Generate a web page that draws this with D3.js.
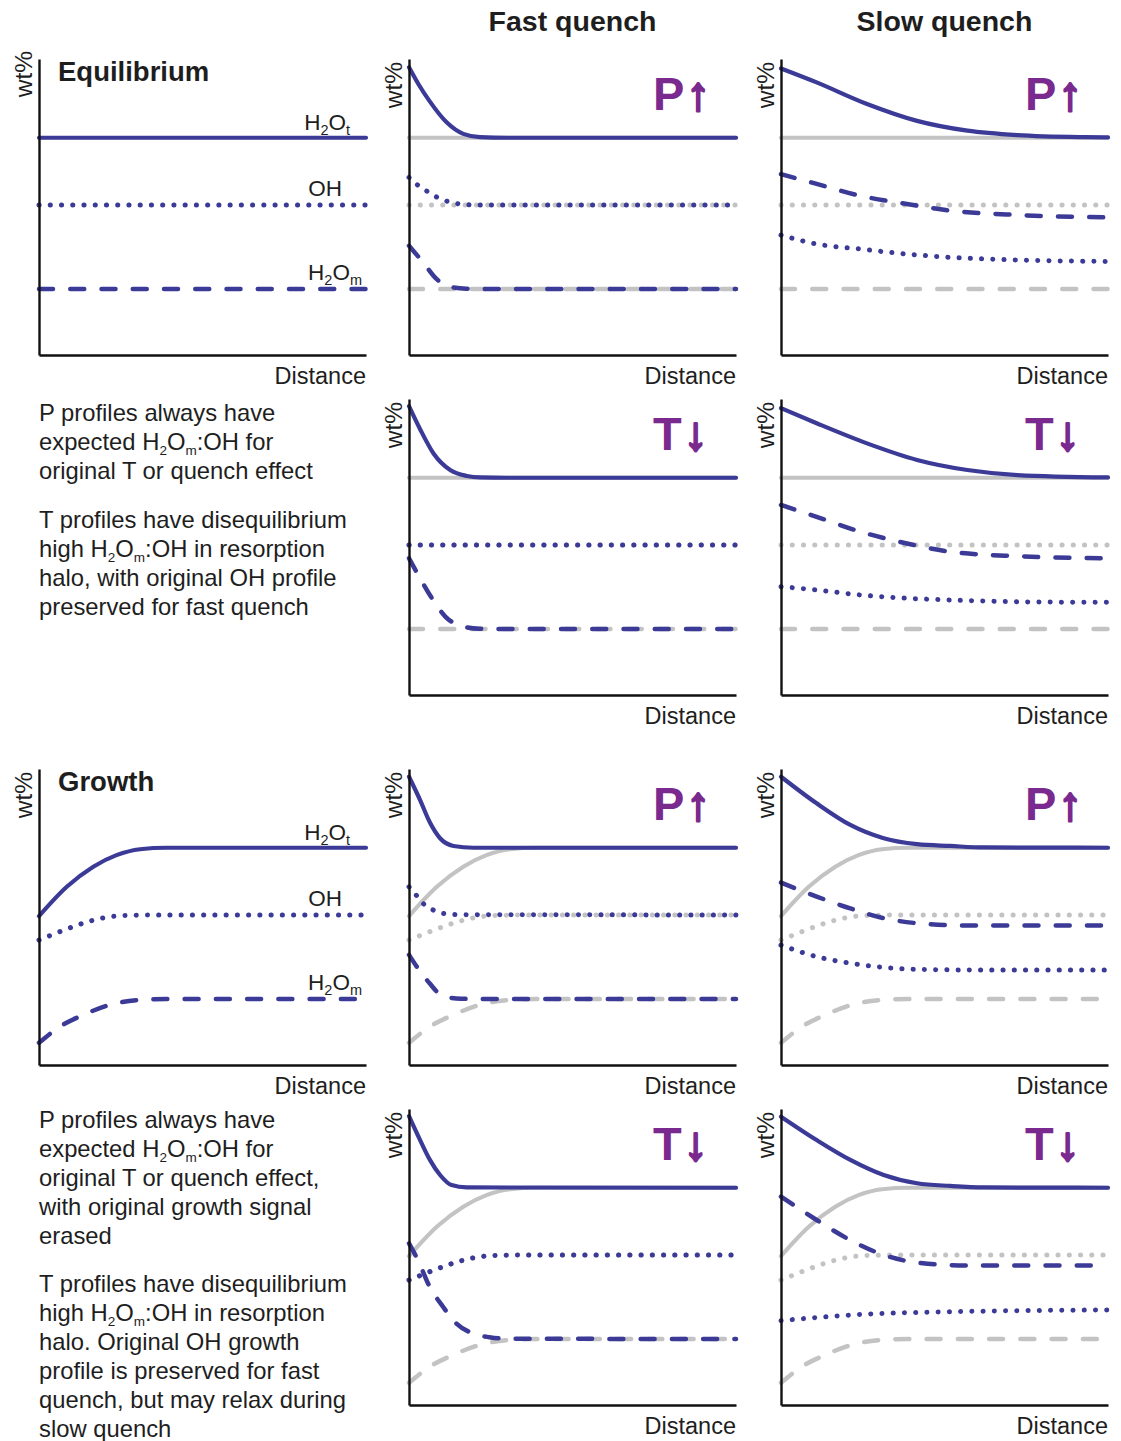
<!DOCTYPE html>
<html><head><meta charset="utf-8">
<script src="https://cdn.jsdelivr.net/npm/d3@7"></script>
<style>
html,body{margin:0;padding:0;background:#fff;}
svg{display:block;font-family:"Liberation Sans",Arial,sans-serif;}
</style></head>
<body>
<svg id="chart" width="1121" height="1441"></svg>
<script>
// ---------- DATA (x: distance 0-100, y: wt% arbitrary 0-100) ----------
const columnHeaders = ["Fast quench", "Slow quench"];
const speciesLabels = ["H_2O_t", "OH", "H_2O_m"];
const eqH2Ot = [[0,73.4],[100,73.4]];
const eqOH   = [[0,50.7],[100,50.7]];
const eqH2Om = [[0,22.3],[100,22.3]];

const fastP_H2Ot = [[0,97.2],[3,91.3],[6.4,85.6],[11.5,78.6],[16.6,74.7],[21.7,73.6],[30,73.4],[100,73.4]];
const fastP_OH   = [[0,60.0],[2.9,57.2],[6,55.0],[9.1,53.0],[12.7,51.6],[15.7,51.0],[20,50.7],[100,50.7]];
const fastP_H2Om = [[0,36.9],[4.3,31.3],[8.4,25.7],[13,22.9],[17.6,22.4],[25,22.3],[100,22.3]];

const slowP_H2Ot = [[0,96.8],[10.9,92.1],[26.3,84.8],[41.6,79.1],[57,75.8],[72.3,74.3],[92.7,73.6],[100,73.5]];
const slowP_H2Om = [[0,61.1],[10.9,57.8],[24.2,53.8],[38.5,51.0],[51.8,48.8],[72.3,47.3],[100,46.5]];
const slowP_OH   = [[0,40.5],[10.9,37.5],[24.2,35.8],[38.5,34.1],[51.8,33.0],[72.3,32.1],[100,31.6]];

const fastT_H2Ot = [[0,97.6],[3.4,89.8],[7.5,81.6],[12.6,76.0],[17.7,74.0],[21.7,73.5],[30,73.4],[100,73.4]];
const fastT_H2Om = [[0,46.2],[3.4,39.4],[7,32.7],[11.1,26.5],[16.7,23.1],[21.7,22.4],[30,22.3],[100,22.3]];

const slowT_H2Ot = [[0,96.9],[10.9,91.8],[26.3,85.0],[41.6,79.4],[57,76.0],[72.3,74.3],[100,73.5]];
const slowT_H2Om = [[0,64.2],[10.9,60.2],[24.2,55.2],[38.5,51.2],[51.8,48.4],[72.3,46.9],[100,46.2]];
const slowT_OH   = [[0,36.6],[10.9,35.5],[24.2,33.8],[38.5,32.7],[51.8,32.1],[72.3,31.5],[100,31.3]];

const grH2Ot = [[0,50.3],[8.5,60.2],[16.6,67.0],[23.7,70.9],[30.9,72.9],[39,73.4],[100,73.4]];
const grOH   = [[0,42.2],[6.3,45.0],[13.5,47.9],[20.6,49.9],[28.7,50.6],[36,50.7],[100,50.7]];
const grH2Om = [[0,7.5],[6.3,12.9],[13.5,16.9],[21.6,20.3],[30.9,22.0],[39,22.3],[100,22.3]];

const grFastP_H2Ot = [[0,97.4],[3.4,89.5],[6.4,81.9],[9.5,76.6],[13.6,74.0],[19.7,73.4],[100,73.4]];
const grFastP_OH   = [[0,60.2],[2.2,57.4],[4.3,54.6],[7.3,52.4],[10.4,51.2],[14.4,50.8],[100,50.7]];
const grFastP_H2Om = [[0,37.2],[2.7,32.7],[6.3,27.6],[9.9,23.6],[14.5,22.5],[20,22.3],[100,22.3]];

const grSlowP_H2Ot = [[0,97.4],[10.9,88.4],[21.2,81.1],[31.4,76.6],[41.6,74.6],[51.8,74.0],[62,73.5],[100,73.4]];
const grSlowP_H2Om = [[0,61.6],[10.9,56.9],[21.2,52.9],[31.4,49.6],[41.6,47.9],[57,47.1],[100,47.1]];
const grSlowP_OH   = [[0,40.5],[10.9,36.6],[21.2,34.4],[31.4,33.0],[41.6,32.3],[62,32.1],[100,32.1]];

const grFastT_H2Ot = [[0,97.6],[3.4,89.5],[6.4,82.8],[9.5,77.7],[13,74.3],[17.6,73.5],[100,73.4]];
const grFastT_H2Om = [[0,54.6],[2.7,49.0],[6.3,40.0],[10.4,33.2],[14.4,27.6],[19.5,24.2],[24.6,22.9],[29.7,22.4],[100,22.3]];

const grSlowT_H2Ot = [[0,97.4],[10.9,89.5],[21.2,82.8],[31.4,77.7],[41.6,74.9],[51.8,74.0],[62,73.5],[100,73.4]];
const grSlowT_H2Om = [[0,70.4],[10.9,62.5],[21.2,55.7],[31.4,50.7],[41.6,48.1],[57,47.1],[100,47.1]];
const grSlowT_OH   = [[0,28.5],[21.2,30.4],[51.8,31.5],[100,32.1]];

const textEq = [
  ["P profiles always have","expected H_2O_m:OH for","original T or quench effect"],
  ["T profiles have disequilibrium","high H_2O_m:OH in resorption","halo, with original OH profile","preserved for fast quench"]
];
const textGr = [
  ["P profiles always have","expected H_2O_m:OH for","original T or quench effect,","with original growth signal","erased"],
  ["T profiles have disequilibrium","high H_2O_m:OH in resorption","halo. Original OH growth","profile is preserved for fast","quench, but may relax during","slow quench"]
];

// ---------- LAYOUT / STYLE ----------
const BLUE = "#3b3a97", GRAY = "#c3c3c3", PURPLE = "#7a2a8e", INK = "#1e1e1e";
const colX = [39, 409, 781];
const colW = 327;
const rowAxisY = [355, 695, 1065, 1405];
const panelH = 296;

const styles = {
  solid: {w: 4.2, dash: null},
  dot:   {w: 5, dash: "0.1 11.14"},
  dash:  {w: 4.5, dash: "14 17.25"}
};

const panels = [
  {c:0, r:0, title:"Equilibrium", species:true,
   lines:[["b","solid",eqH2Ot],["b","dot",eqOH],["b","dash",eqH2Om]]},
  {c:1, r:0, tag:"P", arrow:"↑",
   lines:[["g","solid",eqH2Ot],["g","dot",eqOH],["g","dash",eqH2Om],
          ["b","solid",fastP_H2Ot],["b","dot",fastP_OH],["b","dash",fastP_H2Om]]},
  {c:2, r:0, tag:"P", arrow:"↑",
   lines:[["g","solid",eqH2Ot],["g","dot",eqOH],["g","dash",eqH2Om],
          ["b","solid",slowP_H2Ot],["b","dash",slowP_H2Om],["b","dot",slowP_OH]]},
  {c:1, r:1, tag:"T", arrow:"↓",
   lines:[["g","solid",eqH2Ot],["g","dot",eqOH],["g","dash",eqH2Om],
          ["b","solid",fastT_H2Ot],["b","dot",eqOH],["b","dash",fastT_H2Om]]},
  {c:2, r:1, tag:"T", arrow:"↓",
   lines:[["g","solid",eqH2Ot],["g","dot",eqOH],["g","dash",eqH2Om],
          ["b","solid",slowT_H2Ot],["b","dash",slowT_H2Om],["b","dot",slowT_OH]]},
  {c:0, r:2, title:"Growth", species:true,
   lines:[["b","solid",grH2Ot],["b","dot",grOH],["b","dash",grH2Om]]},
  {c:1, r:2, tag:"P", arrow:"↑",
   lines:[["g","solid",grH2Ot],["g","dot",grOH],["g","dash",grH2Om],
          ["b","solid",grFastP_H2Ot],["b","dot",grFastP_OH],["b","dash",grFastP_H2Om]]},
  {c:2, r:2, tag:"P", arrow:"↑",
   lines:[["g","solid",grH2Ot],["g","dot",grOH],["g","dash",grH2Om],
          ["b","solid",grSlowP_H2Ot],["b","dash",grSlowP_H2Om],["b","dot",grSlowP_OH]]},
  {c:1, r:3, tag:"T", arrow:"↓",
   lines:[["g","solid",grH2Ot],["g","dot",grOH],["g","dash",grH2Om],
          ["b","solid",grFastT_H2Ot],["b","dot",grOH],["b","dash",grFastT_H2Om]]},
  {c:2, r:3, tag:"T", arrow:"↓",
   lines:[["g","solid",grH2Ot],["g","dot",grOH],["g","dash",grH2Om],
          ["b","solid",grSlowT_H2Ot],["b","dash",grSlowT_H2Om],["b","dot",grSlowT_OH]]}
];

const svg = d3.select("#chart");
svg.append("rect").attr("width",1121).attr("height",1441).attr("fill","#fff");

// rich text with _x subscripts
function rich(sel, str, subSize, shift){
  const parts = str.split(/_(\w)/);
  let inSub = false;
  parts.forEach((p,i)=>{
    if(p==="") return;
    if(i%2===1){
      sel.append("tspan").attr("font-size",subSize).attr("dy",inSub?0:shift).text(p);
      inSub = true;
    } else {
      const t = sel.append("tspan").text(p);
      if(inSub) t.attr("dy",-shift);
      inSub = false;
    }
  });
}

columnHeaders.forEach((h,i)=>{
  svg.append("text").attr("x", colX[i+1] + colW/2).attr("y", 31)
    .attr("text-anchor","middle").attr("font-size",28.5).attr("font-weight","bold")
    .attr("fill",INK).text(h);
});

panels.forEach(p=>{
  const x0 = colX[p.c], ay = rowAxisY[p.r];
  const x = d3.scaleLinear().domain([0,100]).range([x0, x0+colW]);
  const y = d3.scaleLinear().domain([0,100]).range([ay, ay-panelH]);
  const g = svg.append("g");

  const line = d3.line().x(d=>x(d[0])).y(d=>y(d[1])).curve(d3.curveMonotoneX);
  const ordered = p.lines.filter(l=>l[0]==="g").concat(p.lines.filter(l=>l[0]==="b"));
  ordered.forEach(([col, st, data])=>{
    const s = styles[st];
    g.append("path").attr("d", line(data)).attr("fill","none")
      .attr("stroke", col==="b"?BLUE:GRAY).attr("stroke-width", s.w)
      .attr("stroke-linecap","round").attr("stroke-linejoin","round")
      .attr("stroke-dasharray", s.dash);
  });

  const xa = g.append("g").attr("transform",`translate(0,${ay})`)
    .call(d3.axisBottom(x).tickValues([]).tickSizeOuter(0));
  const ya = g.append("g").attr("transform",`translate(${x0},0)`)
    .call(d3.axisLeft(y).tickValues([]).tickSizeOuter(0));
  [xa,ya].forEach(a=>a.select(".domain").attr("stroke","#111").attr("stroke-width",2.4));

  g.append("text").attr("x", x0+colW).attr("y", ay+29).attr("text-anchor","end")
    .attr("font-size",23.5).attr("fill",INK).text("Distance");
  const wtEnd = (p.c===0 && p.r===0) ? ay-panelH-8 : ay-panelH+3;
  g.append("text").attr("transform",`translate(${x0-7},${wtEnd}) rotate(-90)`)
    .attr("text-anchor","end").attr("font-size",24.5).attr("fill",INK).text("wt%");

  if(p.title){
    g.append("text").attr("x", x0+19).attr("y", ay-panelH+22)
      .attr("font-size",27.5).attr("font-weight","bold").attr("fill",INK).text(p.title);
  }
  if(p.species){
    const vals = [p.lines[0][2], p.lines[1][2], p.lines[2][2]];
    const ends = [350, 342, 362];
    const offs = [8, 9, 9];
    speciesLabels.forEach((lab,i)=>{
      const v = vals[i][vals[i].length-1][1];
      const t = g.append("text").attr("x", x0 + (ends[i]-39)).attr("y", y(v)-offs[i])
        .attr("text-anchor","end").attr("font-size",22.5).attr("fill",INK);
      rich(t, lab, 14.5, 5);
    });
  }
  if(p.tag){
    const t = g.append("text").attr("x", x0+244).attr("y", ay-panelH+51)
      .attr("font-size",47).attr("font-weight","bold").attr("fill",PURPLE);
    t.append("tspan").text(p.tag);
    t.append("tspan").attr("dx",2).attr("stroke",PURPLE).attr("stroke-width",2.6)
      .attr("stroke-linejoin","round").text(p.arrow);
  }
});

function para(block, firstBaselines){
  block.forEach((lines,bi)=>{
    lines.forEach((ln,li)=>{
      const t = svg.append("text").attr("x",39).attr("y", firstBaselines[bi] + li*29)
        .attr("font-size",23.8).attr("fill",INK);
      rich(t, ln, 13.5, 4.5);
    });
  });
}
para(textEq, [421, 528]);
para(textGr, [1128, 1292]);
</script>
</body></html>
